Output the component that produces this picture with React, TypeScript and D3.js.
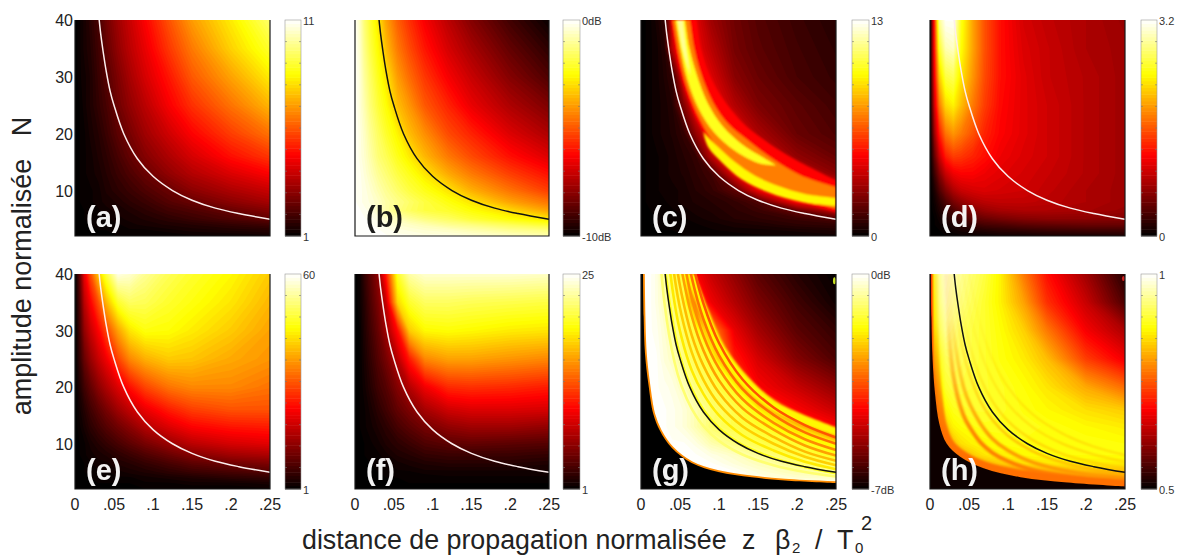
import React from "react";
import * as d3 from "d3";

const zKnots = [0, .006, .012, .02, .03, .04, .055, .07, .09, .12, .15, .2, .25];
const nKnots = [40, 35, 30, 25, 20, 16, 13, 10, 8, 6.5, 5, 4, 3, 2];
const xTickValues = [0, .05, .1, .15, .2, .25];
const xTickLabels = ["0", ".05", ".1", ".15", ".2", ".25"];
const yTickValues = [10, 20, 30, 40];

// heat values: percent of the black-red-yellow-white colour bar
const heatA = [
  [0,2,4,7,11,17,24,30,38,50,61,73,86],
  [0,2,4,6,10,15,22,28,35,46,56,69,80],
  [0,2,3,5,9,13,19,25,32,41,51,62,73],
  [0,1,3,5,8,11,17,22,28,37,45,55,65],
  [0,1,2,4,6,9,14,18,24,31,38,47,55],
  [0,1,2,3,5,7,11,15,20,26,32,40,46],
  [0,1,2,3,4,6,9,12,16,22,27,33,38],
  [0,1,1,2,3,5,7,9,12,16,21,26,30],
  [0,1,1,2,3,4,5,7,9,13,16,21,25],
  [0,0,1,1,2,3,4,5,7,10,12,16,20],
  [0,0,1,1,2,2,3,4,5,7,9,12,15],
  [0,0,0,1,1,2,2,3,4,5,6,8,10],
  [0,0,0,0,1,1,1,2,2,3,4,5,6],
  [0,0,0,0,0,0,1,1,1,1,2,2,3],
];
const heatB = [
  [100,95,87,80,72,62,52,45,37,28,20,10,2],
  [100,96,89,82,75,66,56,49,41,32,25,15,7],
  [100,97,91,85,78,72,61,54,46,37,30,20,12],
  [100,97,93,87,81,76,66,60,51,43,35,26,19],
  [100,98,95,90,85,80,74,66,59,49,43,33,26],
  [100,98,96,92,87,84,78,73,65,56,49,40,33],
  [100,99,97,94,90,87,82,78,72,63,56,47,40],
  [100,99,98,96,93,90,86,82,78,72,64,55,47],
  [100,99,98,97,95,92,89,86,82,77,72,62,55],
  [100,100,99,98,95,92,88,85,82,80,76,70,62],
  [100,100,100,99,98,96,94,91,88,85,81,76,72],
  [100,100,100,100,99,98,96,95,93,90,88,84,80],
  [100,100,100,100,100,99,98,97,96,95,93,90,88],
  [100,100,100,100,100,100,99,99,98,98,97,95,93],
];
const heatC = [
  [0,1,2,4,8,30,40,34,24,17,13,9,6],
  [0,1,2,3,6,28,40,36,28,18,14,10,7],
  [0,1,2,3,5,8,35,40,33,21,16,11,8],
  [0,1,2,3,4,6,20,37,38,27,19,14,10],
  [0,1,2,3,4,5,8,22,37,38,26,16,12],
  [0,1,1,2,3,4,6,8,28,40,34,22,16],
  [0,1,1,2,3,4,5,7,10,35,40,31,21],
  [0,1,1,2,3,3,4,6,8,14,35,40,36],
  [0,1,1,1,2,3,4,5,6,8,12,38,40],
  [0,0,1,1,2,2,3,4,5,7,9,16,30],
  [0,0,0,1,1,2,2,3,4,6,7,9,12],
  [0,0,0,1,1,1,2,2,3,4,5,7,8],
  [0,0,0,0,1,1,1,1,2,3,3,4,5],
  [0,0,0,0,0,0,1,1,1,1,2,2,3],
];
const heatD = [
  [0,45,90,100,100,78,62,50,40,32,29,26,23],
  [0,42,80,93,95,76,62,50,40,33,30,26,24],
  [0,38,68,82,84,72,60,49,40,34,30,27,24],
  [0,32,56,70,74,66,56,47,39,34,31,27,24],
  [0,24,42,55,60,56,50,43,38,34,31,27,24],
  [0,16,30,42,47,46,43,40,36,33,31,27,24],
  [0,10,20,30,36,38,38,36,34,32,30,27,24],
  [0,5,12,19,26,30,32,33,32,31,29,26,24],
  [0,3,7,12,18,22,26,28,29,29,28,26,24],
  [0,2,5,8,12,16,20,23,25,26,26,25,23],
  [0,1,3,5,8,11,14,16,18,20,21,21,20],
  [0,1,2,3,5,7,9,11,12,14,15,16,16],
  [0,0,1,2,3,4,5,6,7,8,9,10,10],
  [0,0,0,1,1,2,2,2,3,3,4,4,5],
];
const heatE = [
  [0,15,35,50,68,82,98,96,90,84,80,75,68],
  [0,12,28,38,50,65,80,85,84,80,77,72,65],
  [0,10,22,30,38,48,62,72,77,76,73,68,62],
  [0,8,16,23,30,36,48,58,64,68,67,63,60],
  [0,5,10,15,21,26,33,40,48,55,58,58,55],
  [0,3,6,10,14,18,24,29,35,42,47,50,50],
  [0,2,4,7,10,13,17,21,27,33,38,41,42],
  [0,1,2,4,6,8,11,14,18,23,28,32,34],
  [0,1,2,3,4,5,7,9,12,16,20,24,26],
  [0,0,1,2,3,3,5,6,8,11,14,17,19],
  [0,0,1,1,2,2,3,4,5,7,9,11,13],
  [0,0,0,1,1,1,2,2,3,4,5,7,8],
  [0,0,0,0,1,1,1,1,2,2,3,3,4],
  [0,0,0,0,0,0,0,0,1,1,1,1,2],
];
const heatF = [
  [0,2,8,14,22,42,80,92,96,96,96,96,95],
  [0,2,6,12,19,30,70,80,85,85,84,83,82],
  [0,1,5,10,16,24,40,68,75,76,75,73,72],
  [0,1,4,8,13,18,28,42,58,62,62,60,58],
  [0,1,3,6,10,13,20,27,36,44,45,44,42],
  [0,1,2,4,7,10,15,19,25,31,33,33,32],
  [0,1,2,3,5,7,11,14,18,22,24,24,22],
  [0,0,1,2,3,5,7,9,12,14,15,14,13],
  [0,0,1,1,2,3,5,6,8,9,9,9,8],
  [0,0,0,1,1,2,3,4,5,6,6,6,5],
  [0,0,0,0,1,1,2,2,3,3,3,3,3],
  [0,0,0,0,0,1,1,1,1,2,2,2,2],
  [0,0,0,0,0,0,0,1,1,1,1,1,1],
  [0,0,0,0,0,0,0,0,0,0,0,0,0],
];
const heatG = [
  [100,100,100,98,92,85,80,38,30,22,14,6,1],
  [100,100,100,98,94,88,83,52,36,27,19,10,3],
  [100,100,100,99,96,92,85,81,60,35,25,14,8],
  [100,100,100,100,97,95,88,84,80,42,32,20,12],
  [100,100,100,100,99,98,94,88,84,78,38,30,22],
  [100,100,100,100,100,99,97,93,87,83,76,38,30],
  [100,100,100,100,100,99,97,93,86,83,80,70,38],
  [100,100,100,100,100,100,100,98,93,88,83,80,74],
  [100,100,100,100,100,100,100,100,98,95,90,83,78],
  [100,100,100,100,100,100,100,100,100,97,94,88,84],
  [100,100,100,100,100,100,100,100,100,100,97,93,90],
  [100,100,100,100,100,100,100,100,100,99,98,96,95],
  [100,100,100,100,100,100,100,100,100,100,100,100,100],
  [100,100,100,100,100,100,100,100,100,100,100,100,100],
];
const heatH = [
  [30,82,90,96,93,90,86,82,74,56,40,24,6],
  [30,78,88,94,91,88,84,80,74,62,45,30,12],
  [28,74,84,90,88,85,82,80,76,69,56,37,26],
  [25,68,78,84,85,84,82,80,77,73,66,47,36],
  [22,56,72,80,82,82,81,80,79,76,72,63,54],
  [18,48,64,74,78,79,80,80,79,77,75,71,68],
  [15,42,55,68,74,76,77,78,78,78,77,75,73],
  [12,30,42,55,66,71,74,75,76,77,77,77,76],
  [12,20,30,40,52,62,68,72,74,75,76,76,76],
  [12,15,20,25,35,45,58,64,68,71,72,73,73],
  [10,12,14,18,22,28,35,45,55,60,63,65,65],
  [8,8,9,10,12,14,18,22,30,42,52,58,60],
  [8,8,8,8,8,8,8,8,8,10,18,38,50],
  [10,10,10,9,8,6,5,4,3,3,3,3,3],
];

// the reference curve drawn over every panel
const curveZ = [.031,.033,.036,.04,.045,.05,.0625,.08,.1,.125,.15,.18,.21,.25];
const curveN = [40,37.5,34.5,31,27.5,25,20,15.6,12.5,10,8.3,6.9,5.95,4.95];

// panel (c): bright bands, each as an outer and an inner edge
const bandRedOuterZ = [.0713,.0769,.0871,.1042,.1281,.1567,.193,.25];
const bandRedOuterN = [40,35,30.6,26.3,22.2,19,15.8,11.75];
const bandRedInnerZ = [.0384,.0457,.0564,.0713,.0948,.129,.1717,.25];
const bandRedInnerN = [40,33.6,27.8,22.5,17.3,13.2,9.7,6.2];
const bandOrangeOuterZ = [.0628,.0683,.0769,.0927,.1119,.1366,.1695,.2058,.25];
const bandOrangeOuterN = [40,35,30.6,25.4,21.7,18.9,15.5,12.6,10.6];
const bandOrangeInnerZ = [.0406,.0487,.0594,.0756,.0991,.1332,.1759,.25];
const bandOrangeInnerN = [40,33.6,27.8,22.5,17.3,13.2,10,6.8];
const bandUpperOuterZ = [.0564,.0619,.0709,.0854,.1042,.1289,.158,.1738];
const bandUpperOuterN = [40,35.1,30.6,25.4,21.4,18.2,15.7,14.4];
const bandUpperInnerZ = [.0444,.0512,.0593,.0743,.0939,.1204,.1512,.1738];
const bandUpperInnerN = [40,34.6,29.6,24.3,20.2,17,14.8,14.4];
const bandPaleOuterZ = [.0534,.0578,.064];
const bandPaleOuterN = [40,35,30];
const bandPaleInnerZ = [.047,.0535,.064];
const bandPaleInnerN = [40,34.8,30];
const bandLowerOuterZ = [.0798,.0991,.1204,.146,.1759,.2101,.25];
const bandLowerOuterN = [20.1,17.6,15,12.6,10.8,9.4,8.7];
const bandLowerInnerZ = [.0798,.0863,.1042,.129,.1631,.2058,.25];
const bandLowerInnerN = [20.1,17.6,14.9,12,9.7,8,7.3];

// panel (g): yellow strip along the sharp edge towards red
const edgeOuterZ = [.0692,.0863,.1076,.1375,.1717,.2058,.25];
const edgeOuterN = [40,33.7,27.15,21.8,17.6,15.25,12.9];
const edgeInnerZ = [.0564,.0756,.0969,.1268,.161,.2015,.25];
const edgeInnerN = [40,33.1,26.2,20.6,16.4,13.8,11.4];

// panels (g), (h): ripple lines, N read at these z
const rippleZ = [.25,.21,.17,.13,.1,.08,.065,.052,.043,.03,.02];
const rippleG = [
  [11.1,13.3,16.4,21.4,27.8,34.8,42.8,53,64,90,130],
  [10,12,15.1,19.7,25.6,32,39.4,49,60,85,125],
  [8.9,10.8,13.7,17.9,23.3,29.1,35.8,44.8,54,78,115],
  [7.9,9.7,12.5,16.3,21.2,26.5,32.6,40.8,49,70,105],
  [7,8.6,11.2,14.6,19,23.8,29.2,36.5,44,63,95],
  [6.2,7.7,10,13.1,17,21.3,26.2,32.7,39.5,56,85],
  [5.5,6.8,8.8,11.5,15,18.8,23,28.8,34.9,50,75],
  [4.8,5.9,7.5,9.8,12.8,16,19.7,24.6,29.8,42,63],
  [4.2,5,6.2,8.1,10.5,13.1,16.2,20.2,24.4,35,52],
];
const rippleGHeat = [50,54,58,61,65,68,72,78,86];
const rippleH = [
  [8,9.5,11.8,15.4,20,25,30.8,38.5,46.5,66,100],
  [6.8,8.1,10,13.1,17,21.3,26.2,32.7,39.5,56,85],
  [5.6,6.7,8.2,10.8,14,17.5,21.5,26.9,32.6,47,70],
  [4.6,5.4,6.7,8.8,11.4,14.2,17.4,21.7,26,37,55],
  [3.7,4.3,5.3,6.8,8.8,10.9,13.5,16.7,20,30,52],
  [3.2,3.6,4.3,5.4,6.9,8.4,10.2,12.7,15,22,42],
];
const rippleHHeat = [68,68,67,64,60,56];
const rippleHWidth = [1.4,1.4,1.6,2,3.5,4];

// panels (g), (h): edge of the dark lower-left corner
const cornerGZ = [.0026,.0034,.0051,.0094,.0158,.0243,.0393,.0649,.0991,.1418,.1845,.25];
const cornerGN = [40,32.5,26,20.6,15.25,12.3,9.3,6.6,5,4.07,3.5,3.05];
const cornerHZ = [.0009,.0017,.0034,.0065,.012,.0215,.0387,.0688,.1161,.1763,.25];
const cornerHN = [40,32.3,24.7,18.8,13.5,10,7.7,5.65,4.08,3.14,2.44];

const panelNames = ["(a)","(b)","(c)","(d)","(e)","(f)","(g)","(h)"];
const panelNameDark = [false,true,false,false,false,false,false,false];
const barTop = ["11","0dB","13","3.2","60","25","0dB","1"];
const barBottom = ["1","-10dB","0","0","1","1","-7dB","0.5"];
const heats = [heatA,heatB,heatC,heatD,heatE,heatF,heatG,heatH];
const curveDark = [false,true,false,false,false,false,true,true];

// ---------- layout ----------
const lefts = [75,355,641,930];
const rights = [270,549,836,1125];
const barLefts = [285,563,852,1141];
const barRights = [301,580,869,1157];
const tops = [20,274];
const bottoms = [236,489];
const SANS = "'Liberation Sans', Arial, sans-serif";

const hot = d3.scaleLinear<string>().domain([0,37.5,75,100]).range(["#000000","#ff0000","#ffff00","#ffffff"]).clamp(true);
const levels = d3.range(1,100.5,1.25);

function band(outerZ:number[],outerN:number[],innerZ:number[],innerN:number[],x:any,y:any){
  const line = d3.line<[number,number]>().x(d=>x(d[0])).y(d=>y(d[1])).curve(d3.curveCatmullRom);
  const a = line(outerZ.map((z,i)=>[z,outerN[i]] as [number,number]))!;
  const b = line(innerZ.map((z,i)=>[z,innerN[i]] as [number,number]).reverse())!;
  return a + "L" + b.slice(1) + "Z";
}
function cornerPath(zs:number[],ns:number[],x:any,y:any){
  const line = d3.line<[number,number]>().x(d=>x(d[0])).y(d=>y(d[1])).curve(d3.curveCatmullRom);
  return line(zs.map((z,i)=>[z,ns[i]] as [number,number]))!;
}

function Panel({index}:{index:number}){
  const col = index%4, row = Math.floor(index/4);
  const x0=lefts[col],x1=rights[col],y0=tops[row],y1=bottoms[row];
  const x = d3.scaleLinear().domain([0,.25]).range([x0,x1]);
  const y = d3.scaleLinear().domain([40,2]).range([y0,y1]);
  const gx = d3.scaleLinear().domain(zKnots.map((_,i)=>i+.5)).range(zKnots.map(z=>x(z))).clamp(true);
  const gy = d3.scaleLinear().domain(nKnots.map((_,i)=>i+.5)).range(nKnots.map(n=>y(n))).clamp(true);
  const heat = heats[index];
  const contours = d3.contours().size([zKnots.length,nKnots.length]).thresholds(levels)(heat.flat());
  const path = d3.geoPath(d3.geoTransform({point(px:number,py:number){(this as any).stream.point(gx(px),gy(py));}}));
  const clip = `clip${index}`;
  const rippleLine = d3.line<[number,number]>().x(d=>x(d[0])).y(d=>y(d[1])).curve(d3.curveCatmullRom);
  const curveD = rippleLine(curveZ.map((z,i)=>[z,curveN[i]] as [number,number]))!;
  const lineColor = curveDark[index] ? "#111" : "#fdeeee";

  const barY = d3.scaleLinear().domain([0,100]).range([y1,y0]);
  const barStops = d3.range(0,100,100/64);
  const barTicks = d3.range(10,100,10);

  return (
    <g>
      <clipPath id={clip}><rect x={x0} y={y0} width={x1-x0} height={y1-y0}/></clipPath>
      {index===7 && (
        <>
          <linearGradient id="rippleFade" gradientUnits="userSpaceOnUse" x1={0} x2={0} y1={y(32)} y2={y(11)}>
            <stop offset="0" stopColor="#fff" stopOpacity={.12}/>
            <stop offset="1" stopColor="#fff" stopOpacity={1}/>
          </linearGradient>
          <mask id="rippleMask" maskUnits="userSpaceOnUse" x={x0} y={y0} width={x1-x0} height={y1-y0}>
            <rect x={x0} y={y0} width={x1-x0} height={y1-y0} fill="url(#rippleFade)"/>
          </mask>
        </>
      )}
      <g clipPath={`url(#${clip})`}>
        <rect x={x0} y={y0} width={x1-x0} height={y1-y0} fill={hot(0)}/>
        {contours.map((c,i)=><path key={i} d={path(c as any)!} fill={hot(c.value)}/>)}
        <g filter="url(#softer)">
          {index===2 && <>
            <path d={band(bandRedOuterZ,bandRedOuterN,bandRedInnerZ,bandRedInnerN,x,y)} fill={hot(38)}/>
            <path d={band(bandOrangeOuterZ,bandOrangeOuterN,bandOrangeInnerZ,bandOrangeInnerN,x,y)} fill={hot(56)}/>
            <path d={band(bandUpperOuterZ,bandUpperOuterN,bandUpperInnerZ,bandUpperInnerN,x,y)} fill={hot(78)}/>
            <path d={band(bandPaleOuterZ,bandPaleOuterN,bandPaleInnerZ,bandPaleInnerN,x,y)} fill={hot(90)}/>
            <path d={band(bandLowerOuterZ,bandLowerOuterN,bandLowerInnerZ,bandLowerInnerN,x,y)} fill={hot(74)}/>
          </>}
          {index===6 && <path d={band(edgeOuterZ,edgeOuterN,edgeInnerZ,edgeInnerN,x,y)} fill={hot(74)}/>}
          {index===7 && <g mask="url(#rippleMask)">
            {rippleH.map((ns,i)=><path key={i} d={rippleLine(rippleZ.map((z,j)=>[z,ns[j]] as [number,number]))!} fill="none" stroke={hot(rippleHHeat[i])} strokeWidth={rippleHWidth[i]}/>)}
            <path d={cornerPath(cornerHZ,cornerHN,x,y)} fill="none" stroke={hot(54)} strokeWidth={14}/>
          </g>}
        </g>
        <g filter="url(#soft)">
          {index===6 && <>
            {rippleG.map((ns,i)=><path key={i} d={rippleLine(rippleZ.map((z,j)=>[z,ns[j]] as [number,number]))!} fill="none" stroke={hot(rippleGHeat[i])} strokeWidth={2.6}/>)}
            <path d={cornerPath(cornerGZ,cornerGN,x,y)} fill="none" stroke={hot(58)} strokeWidth={3.5}/>
            <path d={cornerPath(cornerGZ,cornerGN,x,y)+`L${x(.25)},${y(2)}L${x(0)},${y(2)}L${x(0)},${y(40)}Z`} fill="#000"/>
            <ellipse cx={x(.248)} cy={y(38.8)} rx={1.5} ry={3.5} fill="#c8e020"/>
          </>}
          {index===7 && <>
            <path d={cornerPath(cornerHZ,cornerHN,x,y)+`L${x(.25)},${y(2)}L${x(0)},${y(2)}L${x(0)},${y(40)}Z`} fill="#0d0000"/>
            <ellipse cx={x(.248)} cy={y(39.2)} rx={1.5} ry={2.5} fill="#d02020"/>
          </>}
        </g>
        <path d={curveD} fill="none" stroke={lineColor} strokeWidth={1.5}/>
      </g>
      <path d={`M${x0},${y0}V${y1}H${x1}V${y0}`} fill="none" stroke="#1a1a1a" strokeWidth={1.2}/>
      <text x={x0+11} y={y1-9} fill={panelNameDark[index]?"#111":"#fff"} fontFamily={SANS} fontWeight={700} fontSize={29} opacity={.95}>{panelNames[index]}</text>

      {/* colour bar */}
      {barStops.map((s,i)=><rect key={i} x={barLefts[col]} width={barRights[col]-barLefts[col]} y={barY(s+100/64)} height={barY(s)-barY(s+100/64)+.5} fill={hot(s+50/64)}/>)}
      <rect x={barLefts[col]} y={y0} width={barRights[col]-barLefts[col]} height={y1-y0} fill="none" stroke="#999" strokeWidth={.6}/>
      {barTicks.map(t=><path key={t} d={`M${barLefts[col]},${barY(t)}h2M${barRights[col]},${barY(t)}h-2`} stroke="#777" strokeWidth={.6}/>)}
      <text x={barRights[col]+2} y={y0+5} fontFamily={SANS} fontSize={11} fill="#333">{barTop[index]}</text>
      <text x={barRights[col]+2} y={y1+5} fontFamily={SANS} fontSize={11} fill="#333">{barBottom[index]}</text>

      {/* axes */}
      {row===1 && xTickValues.map((v,i)=><text key={i} x={x(v)} y={y1+21} textAnchor="middle" fontFamily={SANS} fontSize={16} fill="#222">{xTickLabels[i]}</text>)}
      {col===0 && yTickValues.map(v=><text key={v} x={x0-2} y={y(v)+6} textAnchor="end" fontFamily={SANS} fontSize={16} fill="#222">{v}</text>)}
    </g>
  );
}

export default function App(){
  return (
    <svg width={1177} height={557} style={{position:"absolute",left:0,top:0,background:"#fff"}}>
      <defs>
        <filter id="soft" x="-5%" y="-5%" width="110%" height="110%"><feGaussianBlur stdDeviation={.6}/></filter>
        <filter id="softer" x="-5%" y="-5%" width="110%" height="110%"><feGaussianBlur stdDeviation={1}/></filter>
      </defs>
      {panelNames.map((_,i)=><Panel key={i} index={i}/>)}
      <text transform="translate(31,266) rotate(-90)" textAnchor="middle" fontFamily={SANS} fontSize={27} fill="#222" xmlSpace="preserve">amplitude normalisée   N</text>
      <g fontFamily={SANS} fill="#222">
        <text x={302} y={549} fontSize={26.8}>distance de propagation normalisée</text>
        <text x={742} y={549} fontSize={26.8}>z</text>
        <text x={775} y={549} fontSize={26.8}>β</text>
        <text x={792} y={553} fontSize={15}>2</text>
        <text x={815} y={549} fontSize={26.8}>/</text>
        <text x={837} y={549} fontSize={26.8}>T</text>
        <text x={855} y={553} fontSize={15}>0</text>
        <text x={861} y={530} fontSize={20}>2</text>
      </g>
    </svg>
  );
}
